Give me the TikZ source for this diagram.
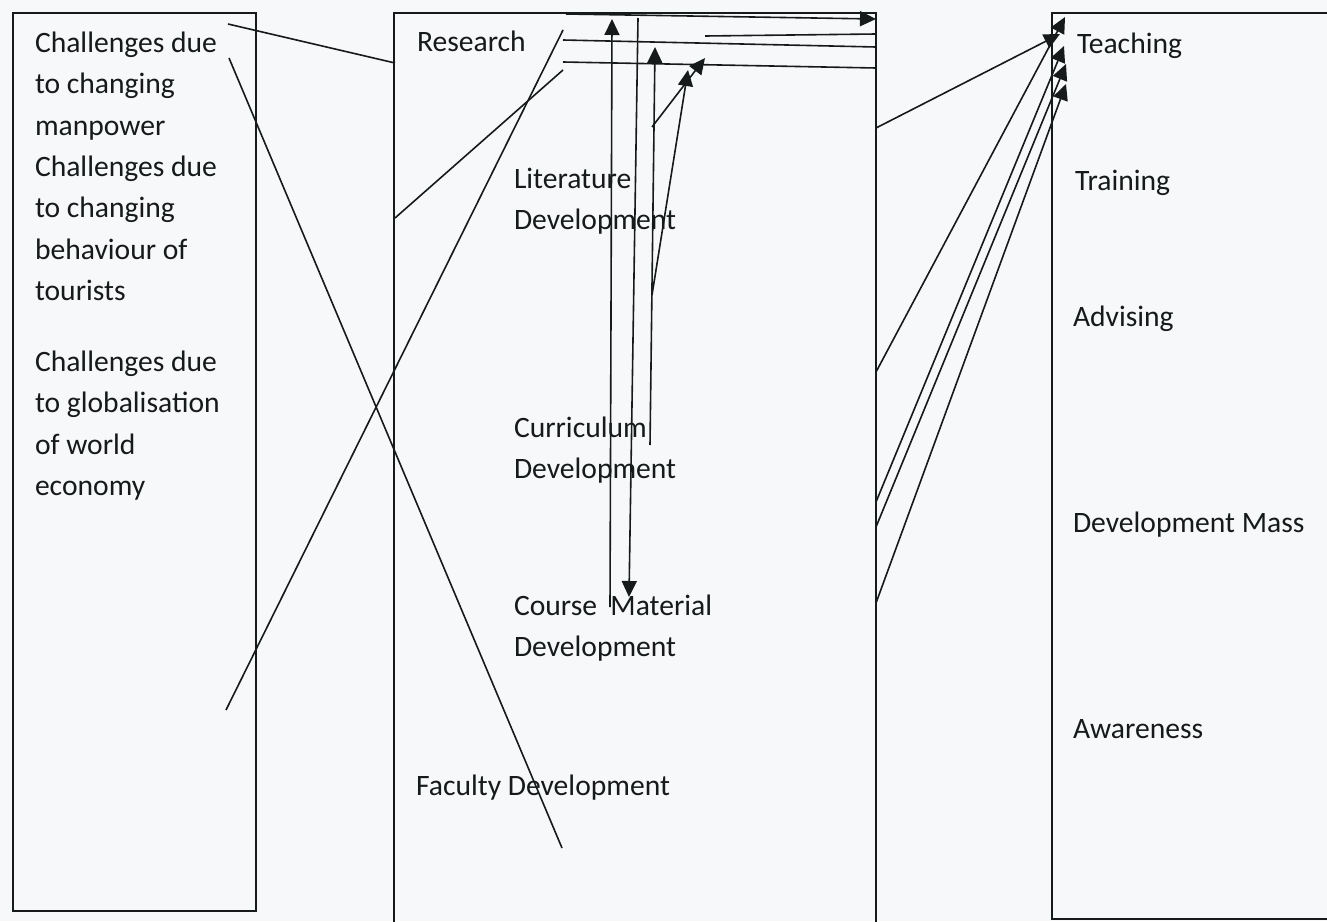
\documentclass[tikz,border=0pt]{standalone}
\usepackage{fontspec}
\setmainfont{Carlito}
\usetikzlibrary{arrows.meta}
\definecolor{paper}{RGB}{247,248,250}
\definecolor{ink}{RGB}{22,26,26}
\newcommand{\mlines}[1]{\vtop{\baselineskip=41.5pt\lineskiplimit=-100pt\halign{##\hfil\cr#1\crcr}}}
\tikzset{
  box/.style={draw=ink, line width=1.5pt, anchor=north west, inner sep=0pt, outer sep=0pt},
  lbl/.style={anchor=base west, inner sep=0pt, outer sep=0pt, text=ink, font=\fontsize{29.6}{41.5}\selectfont},
  conn/.style={draw=ink, line width=1.6pt},
  arr/.style={conn, -{Triangle[length=16pt,width=15pt]}}
}
\begin{document}
\begin{tikzpicture}[x=1pt,y=-1pt]
\useasboundingbox (0,0) rectangle (1327,921);
\fill[paper] (0,0) rectangle (1327,921);
\clip (0,0) rectangle (1327,921);

% boxes
\node[box, minimum width=243pt, minimum height=898pt] (L) at (13,13) {};
\node[box, minimum width=482pt, minimum height=915pt] (M) at (394,13) {};
\node[box, minimum width=300pt, minimum height=906pt] (R) at (1052,13) {};

% left labels
\node[lbl] (ch1) at (35,52)  {\mlines{Challenges due\cr to changing\cr manpower}};
\node[lbl] (ch2) at (35,176) {\mlines{Challenges due\cr to changing\cr behaviour of\cr tourists}};
\node[lbl] (ch3) at (35,371) {\mlines{Challenges due\cr to globalisation\cr of world\cr economy}};

% middle labels
\node[lbl] (res) at (417,51)  {Research};
\node[lbl] (lit) at (514,188) {\mlines{Literature\cr Development}};
\node[lbl] (cur) at (514,437) {\mlines{Curriculum\cr Development}};
\node[lbl] (crs) at (514,615) {\mlines{Course\ \ Material\cr Development}};
\node[lbl] (fac) at (416,795) {Faculty Development};

% right labels
\node[lbl] (tea) at (1077,53)  {Teaching};
\node[lbl] (tra) at (1075,190) {Training};
\node[lbl] (adv) at (1073,326) {Advising};
\node[lbl] (dev) at (1073,532) {Development Mass};
\node[lbl] (awa) at (1073,738) {Awareness};

% connector end points
\coordinate (c1a) at (228,24);  \coordinate (c1b) at (395,63);
\coordinate (c2a) at (229,58);  \coordinate (c2b) at (562,848);
\coordinate (c3a) at (395,218); \coordinate (c3b) at (563,70);
\coordinate (c4a) at (563,30);  \coordinate (c4b) at (226,710);

\coordinate (a1a) at (566,14);  \coordinate (a1b) at (876,19);
\coordinate (h1a) at (563,40);  \coordinate (h1b) at (876,47);
\coordinate (h2a) at (563,62);  \coordinate (h2b) at (876,68);
\coordinate (h3a) at (705,36);  \coordinate (h3b) at (876,34);
\coordinate (v1a) at (610,607); \coordinate (v1b) at (612,19);
\coordinate (v2a) at (638,18);  \coordinate (v2b) at (629,597);
\coordinate (v3a) at (650,445); \coordinate (v3b) at (655,47);
\coordinate (d1a) at (652,127); \coordinate (d1b) at (705,58);
\coordinate (d2a) at (652,295); \coordinate (d2b) at (688,70);

\coordinate (r1a) at (876,128); \coordinate (r1b) at (1060,34);
\coordinate (r2a) at (876,372); \coordinate (r2b) at (1065,17);
\coordinate (r3a) at (876,502); \coordinate (r3b) at (1064,46);
\coordinate (r4a) at (876,527); \coordinate (r4b) at (1066,64);
\coordinate (r5a) at (876,603); \coordinate (r5b) at (1066,84);

% left -> middle
\draw[conn] (c1a) -- (c1b);
\draw[conn] (c2a) -- (c2b);
\draw[conn] (c3a) -- (c3b);
\draw[conn] (c4a) -- (c4b);

% middle box internal
\draw[arr] (a1a) -- (a1b);
\draw[conn] (h1a) -- (h1b);
\draw[conn] (h2a) -- (h2b);
\draw[conn] (h3a) -- (h3b);
\draw[arr] (v1a) -- (v1b);
\draw[arr] (v2a) -- (v2b);
\draw[arr] (v3a) -- (v3b);
\draw[arr] (d1a) -- (d1b);
\draw[arr] (d2a) -- (d2b);

% middle -> right
\draw[arr] (r1a) -- (r1b);
\draw[arr] (r2a) -- (r2b);
\draw[arr] (r3a) -- (r3b);
\draw[arr] (r4a) -- (r4b);
\draw[arr] (r5a) -- (r5b);
\end{tikzpicture}
\end{document}
